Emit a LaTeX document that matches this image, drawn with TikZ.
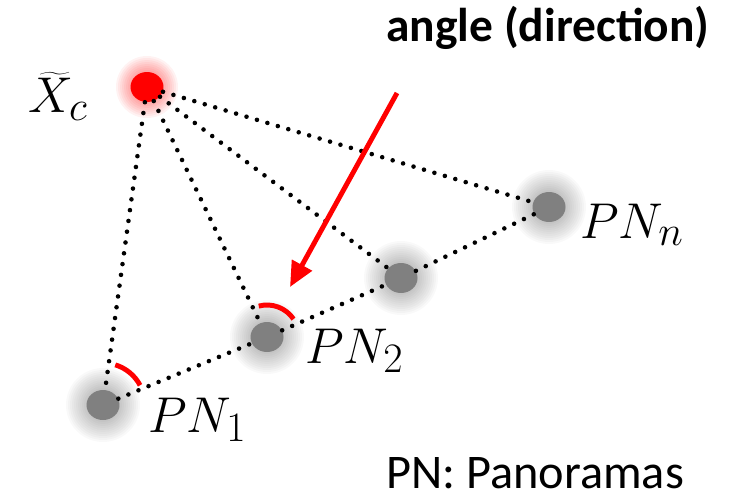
\documentclass[tikz,border=0pt]{standalone}
\usepackage{fontspec}
\setmainfont{Carlito}
\usetikzlibrary{arrows.meta,shapes.geometric}
\newcommand{\biglabel}[1]{\scalebox{1.15}{$#1$}}

\begin{document}
\begin{tikzpicture}[x=0.02cm, y=0.02cm,
	pano/.style={ellipse, fill=gray, minimum width=0.66cm, minimum height=0.6cm, inner sep=0pt},
	camera/.style={ellipse, fill=red, minimum width=0.66cm, minimum height=0.6cm, inner sep=0pt},
	rayline/.style={line width=2.6pt, line cap=round, dash pattern=on 0pt off 6.2pt},
	anglearc/.style={red, line width=2.8pt},
	pnlabel/.style={anchor=base west, font=\fontsize{24.88}{30}\selectfont, inner sep=0pt}
	]
	
	% Picture frame
	\useasboundingbox (0,0) rectangle (736,501);
	
	% Positions of the camera and the panoramas
	\coordinate (cxc) at (147,414);
	\coordinate (cpn1) at (103,96);
	\coordinate (cpn2) at (267,164);
	\coordinate (cpnm) at (401,223);
	\coordinate (cpnn) at (549,294);
	
	% Soft glow around the dots
	\foreach \p in {cpn1,cpn2,cpnm,cpnn} {
		\foreach \r in {17,19,...,37} {
			\fill[black, opacity=0.025] (\p) circle (\r);
		}
	}
	\foreach \r in {17,19,...,31} {
		\fill[red, opacity=0.05] (cxc) circle (\r);
	}
	
	% Dots
	\node[camera] (xc) at (cxc) {};
	\node[pano] (pn1) at (cpn1) {};
	\node[pano] (pn2) at (cpn2) {};
	\node[pano] (pnm) at (cpnm) {};
	\node[pano] (pnn) at (cpnn) {};
	
	% Rays from the camera to every panorama
	\foreach \p in {pn1,pn2,pnm,pnn} {
		\draw[rayline] (xc) -- (\p);
	}
	
	% Path through the panoramas
	\draw[rayline] (pn1) -- (pn2) -- (pnm) -- (pnn);
	
	% Angles at the panoramas
	\draw[anglearc] ([shift={(34:32)}]cpn2) arc[start angle=34, end angle=105, radius=32];
	\draw[anglearc] ([shift={(28:42)}]cpn1) arc[start angle=28, end angle=73, radius=42];
	
	% Labels
	\node[pnlabel] (lxc) at (28,388) {\biglabel{\widetilde{X}_c}};
	\node[pnlabel] (lpn1) at (148,69) {\biglabel{PN_1}};
	\node[pnlabel] (lpn2) at (305,138) {\biglabel{PN_2}};
	\node[pnlabel] (lpnn) at (580,263) {\biglabel{PN_n}};
	
	% Pointer to the angle
	\node[anchor=base, font=\fontsize{27}{32}\selectfont\bfseries] (title) at (548,459) {angle (direction)};
	\coordinate (a1) at (397,408);
	\coordinate (a2) at (290,214);
	\draw[red, line width=2.8pt, -{Triangle[length=0.5cm, width=0.44cm]}] (a1) -- (a2);
	
	\node[anchor=base, font=\fontsize{27.5}{32}\selectfont] (legend) at (535,13) {PN: Panoramas};
	
\end{tikzpicture}
\end{document}
